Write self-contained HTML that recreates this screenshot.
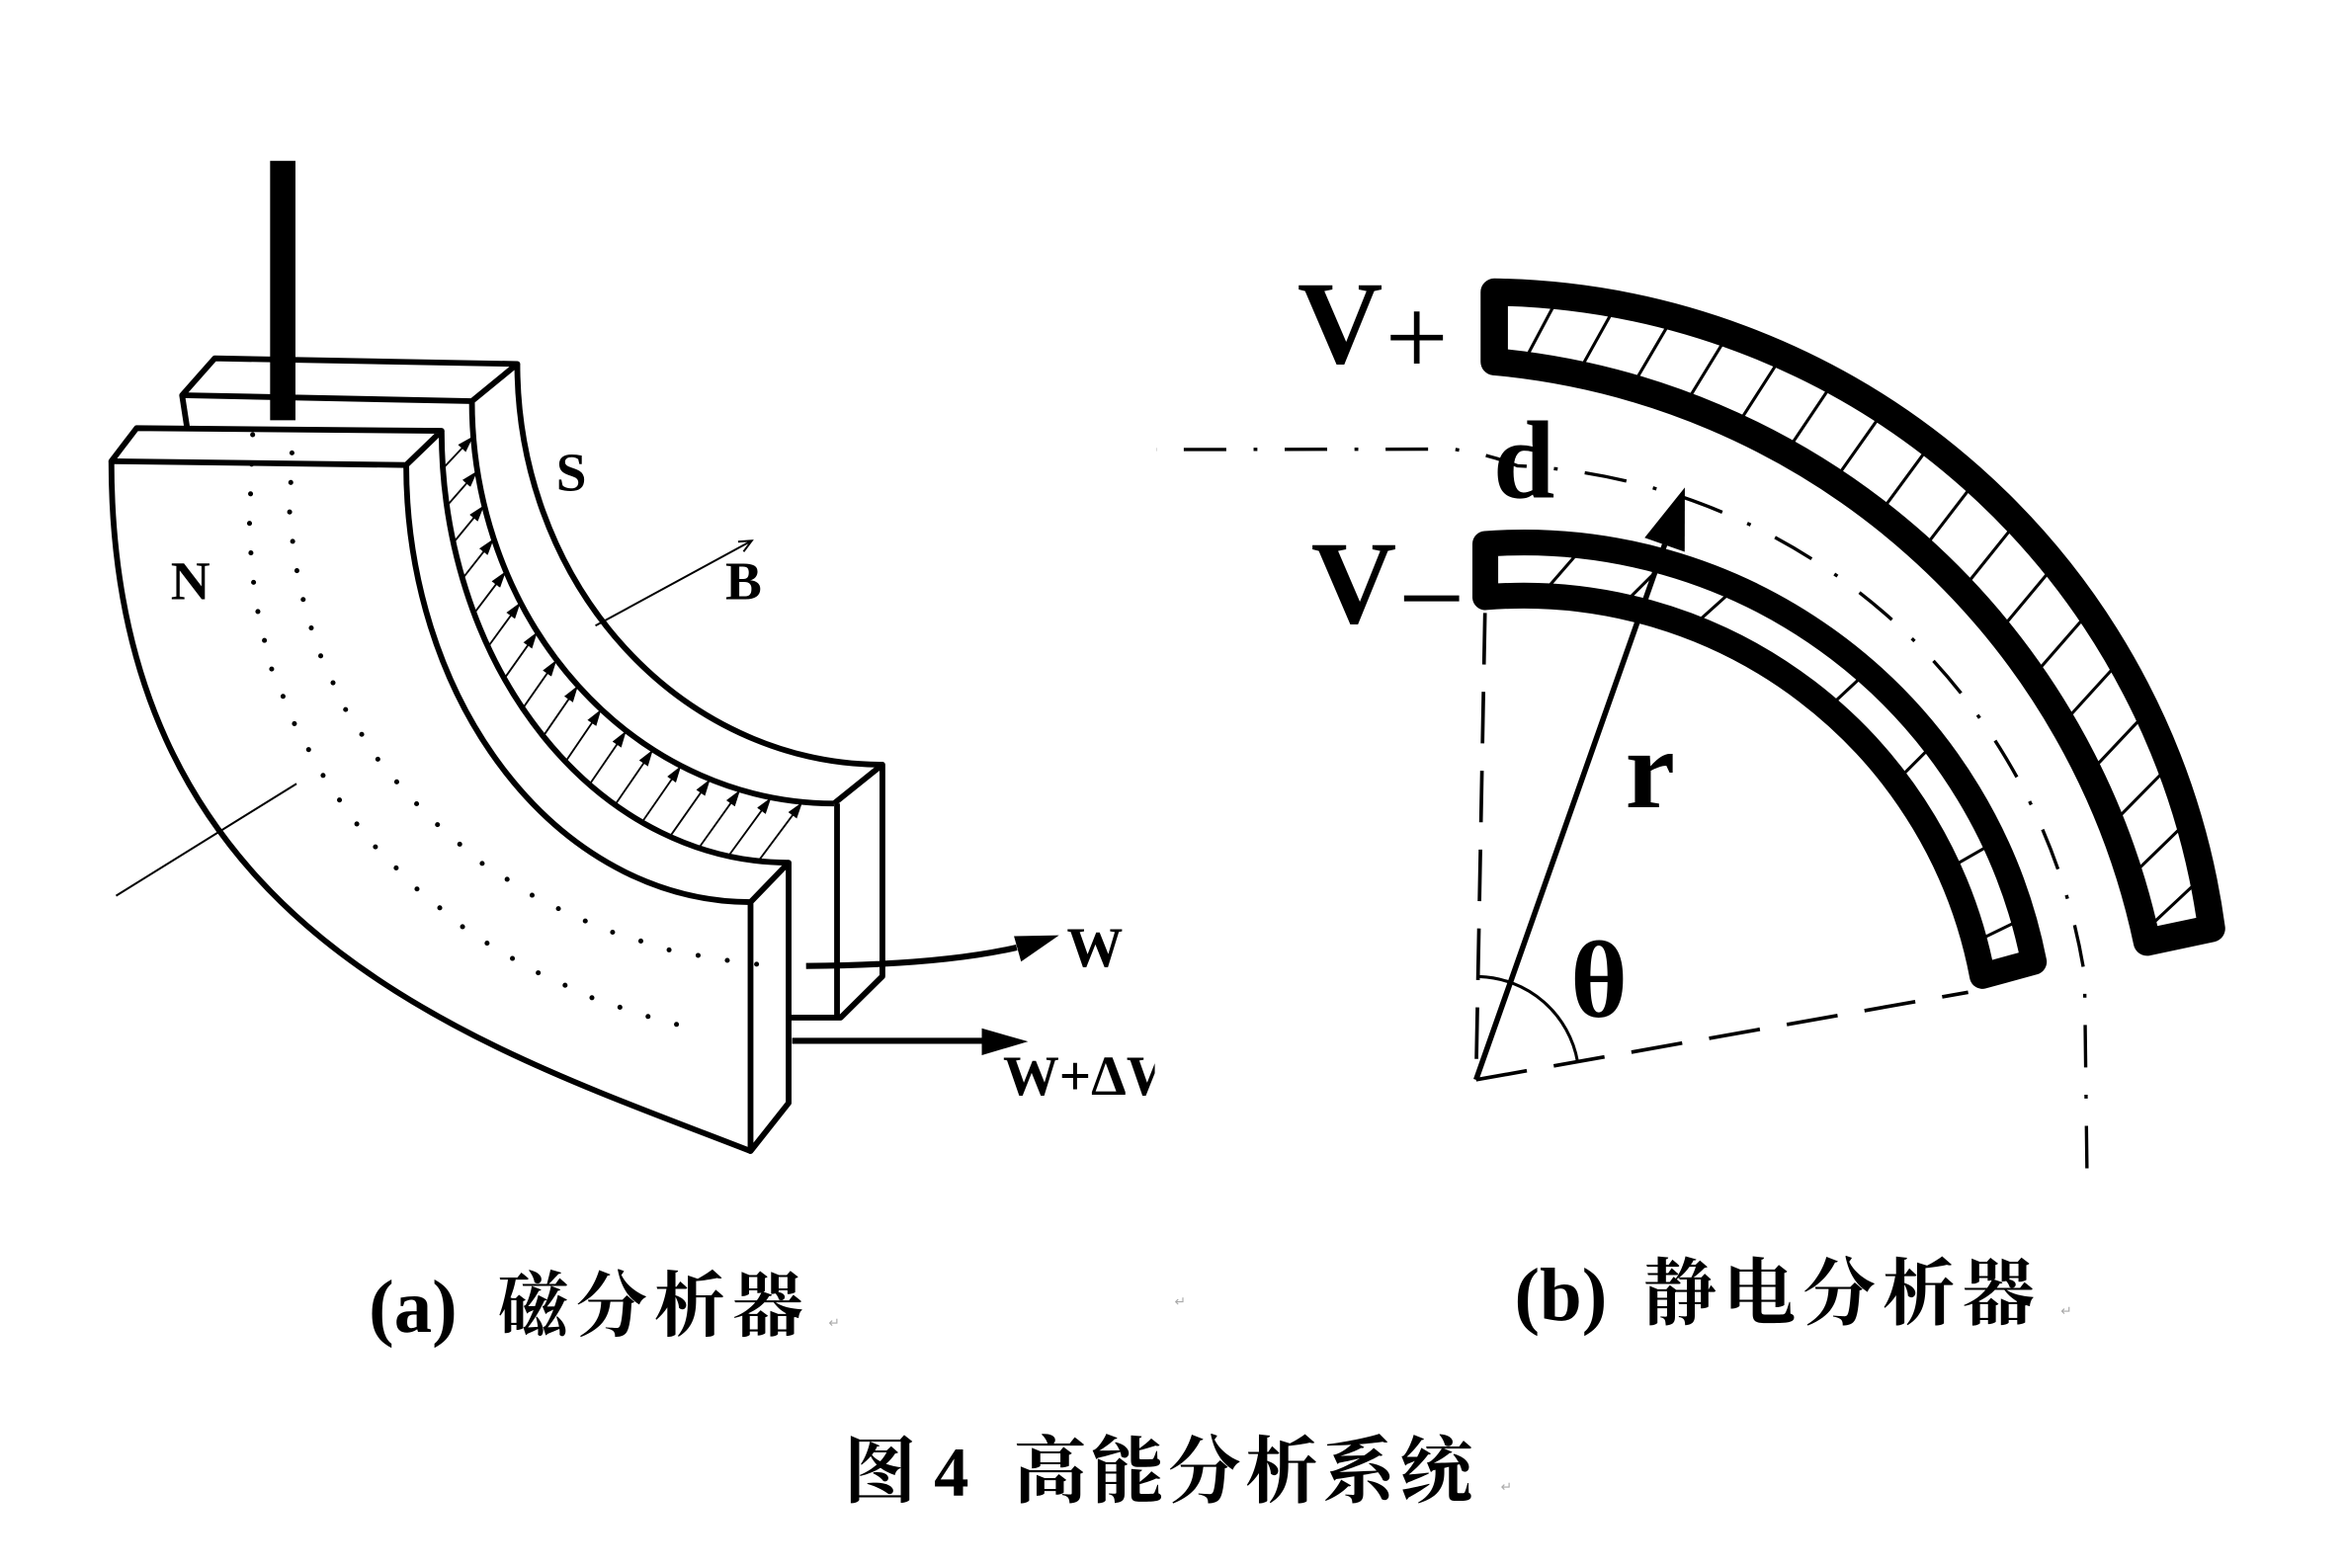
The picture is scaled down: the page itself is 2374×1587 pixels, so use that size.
<!DOCTYPE html>
<html><head><meta charset="utf-8"><style>html,body{margin:0;padding:0;background:#fff;}svg{display:block}</style></head>
<body>
<svg xmlns="http://www.w3.org/2000/svg" width="2374" height="1587" viewBox="0 0 1546 1033.5" preserveAspectRatio="none">
<defs>
<marker id="ah" viewBox="0 0 11 7" refX="11" refY="3.5" markerWidth="11" markerHeight="7" markerUnits="userSpaceOnUse" orient="auto"><path d="M0,0 L11,3.5 L0,7 z" fill="#000"/></marker>
<clipPath id="cp1"><path d="M984.7,192.5 A484.4,484.4 0 0 1 1457.4,612 L1414.9,621 A485.1,485.1 0 0 0 984.7,238.4 Z"/></clipPath>
<clipPath id="cp2"><path d="M978.8,358.5 A342.8,342.8 0 0 1 1340.3,634 L1306.4,643.3 A307.8,307.8 0 0 0 978.8,393.6 Z"/></clipPath>
<clipPath id="cw"><rect x="0" y="0" width="761" height="1033"/></clipPath>
</defs>
<rect x="0" y="0" width="1546" height="1033.5" fill="#fff"/>

<!-- ===== Panel (a) ===== -->
<g fill="none" stroke="#000" stroke-width="3.8" stroke-linejoin="round">
  <!-- S block -->
  <path d="M141.5,236.2 L340.9,239.9 L311,264.4 L120,260.5 Z"/>
  <path d="M120,260.5 L123.3,282"/>
  <path d="M311,264.4 A238.6,265.2 0 0 0 549.6,529.6"/>
  <path d="M340.9,239.9 A240.6,264.1 0 0 0 581.5,504"/>
  <path d="M549.6,529.6 L581.5,504 L581.5,643.5 L554,670.7 L519.7,670.7"/>
  <path d="M551.6,529.6 L551.6,670.7"/>
  <!-- N block -->
  <path d="M73.4,304 L90,282.2 L291,284 L267.7,306.5 Z"/>
  <path d="M73.4,304 C73.4,616 314.6,688.5 494.6,758.7"/>
  <path d="M267.7,306.5 A226.9,288.1 0 0 0 494.6,594.6"/>
  <path d="M291,284 A228.7,284.6 0 0 0 519.7,568.6"/>
  <path d="M494.6,594.6 L519.7,568.6 L519.7,727 L494.6,758.7 Z"/>
</g>

<!-- vertical bar -->
<rect x="178" y="106" width="16.7" height="171" fill="#000"/>

<!-- field arrows -->
<g stroke="#000" stroke-width="1.2" fill="none" marker-end="url(#ah)">
  <line x1="291.9" y1="308.8" x2="311.9" y2="287.5"/>
  <line x1="294.5" y1="333.4" x2="314.6" y2="310.4"/>
  <line x1="298.8" y1="357.7" x2="319.1" y2="333"/>
  <line x1="304.8" y1="381.3" x2="325.4" y2="355.1"/>
  <line x1="312.4" y1="404.3" x2="333.4" y2="376.5"/>
  <line x1="321.6" y1="426.3" x2="343" y2="397"/>
  <line x1="332.4" y1="447.2" x2="354.1" y2="416.5"/>
  <line x1="344.5" y1="466.9" x2="366.8" y2="434.9"/>
  <line x1="358" y1="485.2" x2="380.9" y2="451.9"/>
  <line x1="372.7" y1="502" x2="396.2" y2="467.5"/>
  <line x1="388.5" y1="517.1" x2="412.7" y2="481.7"/>
  <line x1="405.3" y1="530.5" x2="430.3" y2="494.1"/>
  <line x1="423.1" y1="541.9" x2="448.8" y2="504.8"/>
  <line x1="441.5" y1="551.4" x2="468" y2="513.6"/>
  <line x1="460.5" y1="558.9" x2="487.8" y2="520.6"/>
  <line x1="480" y1="564.3" x2="508.2" y2="525.6"/>
  <line x1="499.8" y1="567.5" x2="528.8" y2="528.6"/>
</g>

<!-- dotted trajectories -->
<g fill="none" stroke="#000" stroke-width="3.3" stroke-linecap="round" stroke-dasharray="0 19.5">
  <polyline points="192.4,298.5 190.7,341.9 197,385.3 208.7,426.5 227,466.5 251.8,504.7 282,538 316.5,568.3 355.8,593.3 397.8,612.6 443.5,626.9 491,635 515.3,636.7"/>
  <polyline points="166.5,286.5 164.2,351.5 168.1,395 178,438.5 194.7,478.6 216,516.6 242.4,553.1 274.4,585.6 309.6,614.8 349.3,638.7 391.8,658.4 437.5,673.4 460.4,678.3"/>
</g>

<!-- thin lines -->
<line x1="76.5" y1="590.4" x2="195.4" y2="516.6" stroke="#000" stroke-width="1.3"/>
<g stroke="#000" stroke-width="1.3" fill="none">
  <line x1="392.4" y1="412.4" x2="495.4" y2="356.4"/>
  <polyline points="486.4,357 495.4,356.4 490,363.6"/>
</g>

<!-- W arrows -->
<path d="M531.2,636.7 Q620,636 670,624.5" fill="none" stroke="#000" stroke-width="4"/>
<polygon points="697.9,616.5 668.2,617 672.9,633.8" fill="#000"/>
<line x1="522" y1="686" x2="650" y2="686" stroke="#000" stroke-width="4"/>
<polygon points="677.5,686.5 647,677.8 647,695.5" fill="#000"/>

<g font-family="'Liberation Serif', serif" font-weight="bold" fill="#000">
  <text x="112.5" y="395" font-size="36">N</text>
  <text x="366.5" y="323.4" font-size="36">S</text>
  <text x="478" y="395" font-size="36">B</text>
  <text x="703" y="637" font-size="37">W</text>
  <text x="661" y="721.6" font-size="37" clip-path="url(#cw)">W+ΔW</text>
</g>

<!-- ===== Panel (b) ===== -->
<!-- dash-dot center line -->
<path d="M762,296.3 L957,296 Q980,299 1000,307 A397.5,397.5 0 0 1 1373.7,642.6 L1375.4,779" fill="none" stroke="#000" stroke-width="2.2" stroke-dasharray="28 18 2.5 18" stroke-dashoffset="48.4"/>

<!-- V+ electrode -->
<path d="M984.7,192.5 A484.4,484.4 0 0 1 1457.4,612 L1414.9,621 A485.1,485.1 0 0 0 984.7,238.4 Z" fill="#fff"/>
<g clip-path="url(#cp1)" stroke="#000" stroke-width="2" fill="none">
  <line x1="1000.7" y1="245.1" x2="1028.9" y2="192.1"/>
  <line x1="1037.4" y1="250.5" x2="1066.6" y2="198.1"/>
  <line x1="1073.2" y1="258.7" x2="1103.6" y2="206.9"/>
  <line x1="1108.5" y1="269.8" x2="1139.9" y2="218.6"/>
  <line x1="1142.8" y1="283.4" x2="1175.2" y2="233"/>
  <line x1="1175.9" y1="299.9" x2="1209.3" y2="250.1"/>
  <line x1="1207.5" y1="318.7" x2="1242.1" y2="269.7"/>
  <line x1="1237.5" y1="340.1" x2="1273.1" y2="291.7"/>
  <line x1="1265.9" y1="363.8" x2="1302.5" y2="316.2"/>
  <line x1="1292.4" y1="389.6" x2="1330" y2="342.8"/>
  <line x1="1316.6" y1="417.2" x2="1355" y2="371.2"/>
  <line x1="1338.7" y1="446.9" x2="1378.1" y2="401.7"/>
  <line x1="1358.3" y1="478.1" x2="1398.7" y2="433.7"/>
  <line x1="1375.5" y1="510.9" x2="1416.7" y2="467.3"/>
  <line x1="1390.1" y1="544.8" x2="1432.3" y2="502"/>
  <line x1="1402" y1="579.8" x2="1445" y2="538"/>
  <line x1="1411.1" y1="615.7" x2="1454.9" y2="574.7"/>
</g>
<path d="M984.7,192.5 A484.4,484.4 0 0 1 1457.4,612 L1414.9,621 A485.1,485.1 0 0 0 984.7,238.4 Z" fill="none" stroke="#000" stroke-width="18" stroke-linejoin="round"/>

<!-- V- electrode -->
<path d="M978.8,358.5 A342.8,342.8 0 0 1 1340.3,634 L1306.4,643.3 A307.8,307.8 0 0 0 978.8,393.6 Z" fill="#fff"/>
<g clip-path="url(#cp2)" stroke="#000" stroke-width="2" fill="none">
  <line x1="1017.5" y1="390.1" x2="1038.5" y2="365.9"/>
  <line x1="1068.7" y1="399.3" x2="1091.3" y2="376.7"/>
  <line x1="1113.6" y1="414.4" x2="1137.4" y2="393"/>
  <line x1="1202.8" y1="468.4" x2="1226.2" y2="446.6"/>
  <line x1="1249.7" y1="514.9" x2="1272.3" y2="492.3"/>
  <line x1="1285.1" y1="572" x2="1312.9" y2="556"/>
  <line x1="1301.1" y1="621" x2="1329.9" y2="607"/>
</g>
<path d="M978.8,358.5 A342.8,342.8 0 0 1 1340.3,634 L1306.4,643.3 A307.8,307.8 0 0 0 978.8,393.6 Z" fill="none" stroke="#000" stroke-width="17" stroke-linejoin="round"/>

<!-- dashed radial lines -->
<g stroke="#000" stroke-width="2.4" fill="none" stroke-dasharray="34 18">
  <line x1="978.6" y1="404" x2="972.7" y2="711.7"/>
  <line x1="972.7" y1="711.7" x2="1297" y2="654"/>
</g>
<!-- theta arc -->
<path d="M975,643.7 A68,68 0 0 1 1039.6,699.7" fill="none" stroke="#000" stroke-width="2"/>

<!-- r arrow -->
<line x1="972.7" y1="711.7" x2="1097" y2="359" stroke="#000" stroke-width="3.6"/>
<polygon points="1110.3,321.3 1083.8,354.4 1110.2,363.7" fill="#000"/>

<g font-family="'Liberation Serif', serif" fill="#000">
  <text x="855" y="239" font-size="78" font-weight="bold">V</text>
  <text x="912.8" y="247.2" font-size="74">+</text>
  <text x="864" y="410.3" font-size="78" font-weight="bold">V</text>
  <text x="921.4" y="420.5" font-size="78">−</text>
  <text x="984" y="327.8" font-size="73" font-weight="bold">d</text>
  <text x="1071" y="532" font-size="74" font-weight="bold">r</text>
  <text x="1035" y="670" font-size="72" font-weight="bold">θ</text>
</g>

<!-- captions -->
<g fill="#000">
  <text x="243" y="878" font-family="'Liberation Serif', serif" font-weight="bold" font-size="50">(a)</text>
  <text x="328" y="877" font-family="'Liberation Serif', 'Noto Serif CJK SC', serif" font-weight="bold" font-size="47" letter-spacing="4.5">磁分析器</text>
  <text x="998" y="870" font-family="'Liberation Serif', serif" font-weight="bold" font-size="50">(b)</text>
  <text x="1083" y="869" font-family="'Liberation Serif', 'Noto Serif CJK SC', serif" font-weight="bold" font-size="48" letter-spacing="4.5">静电分析器</text>
  <text x="556" y="986.4" font-family="'Liberation Serif', 'Noto Serif CJK SC', serif" font-weight="bold" font-size="48">图</text>
  <text x="615.5" y="985.5" font-family="'Liberation Serif', serif" font-weight="bold" font-size="46">4</text>
  <text x="668" y="986.4" font-family="'Liberation Serif', 'Noto Serif CJK SC', serif" font-weight="bold" font-size="48" letter-spacing="2.9">高能分析系统</text>
</g>
<g font-family="'DejaVu Sans', sans-serif" font-size="9" fill="#aaa">
  <text x="546" y="875">↵</text>
  <text x="774" y="861">↵</text>
  <text x="1358" y="867">↵</text>
  <text x="989" y="983">↵</text>
</g>
</svg>
</body></html>
